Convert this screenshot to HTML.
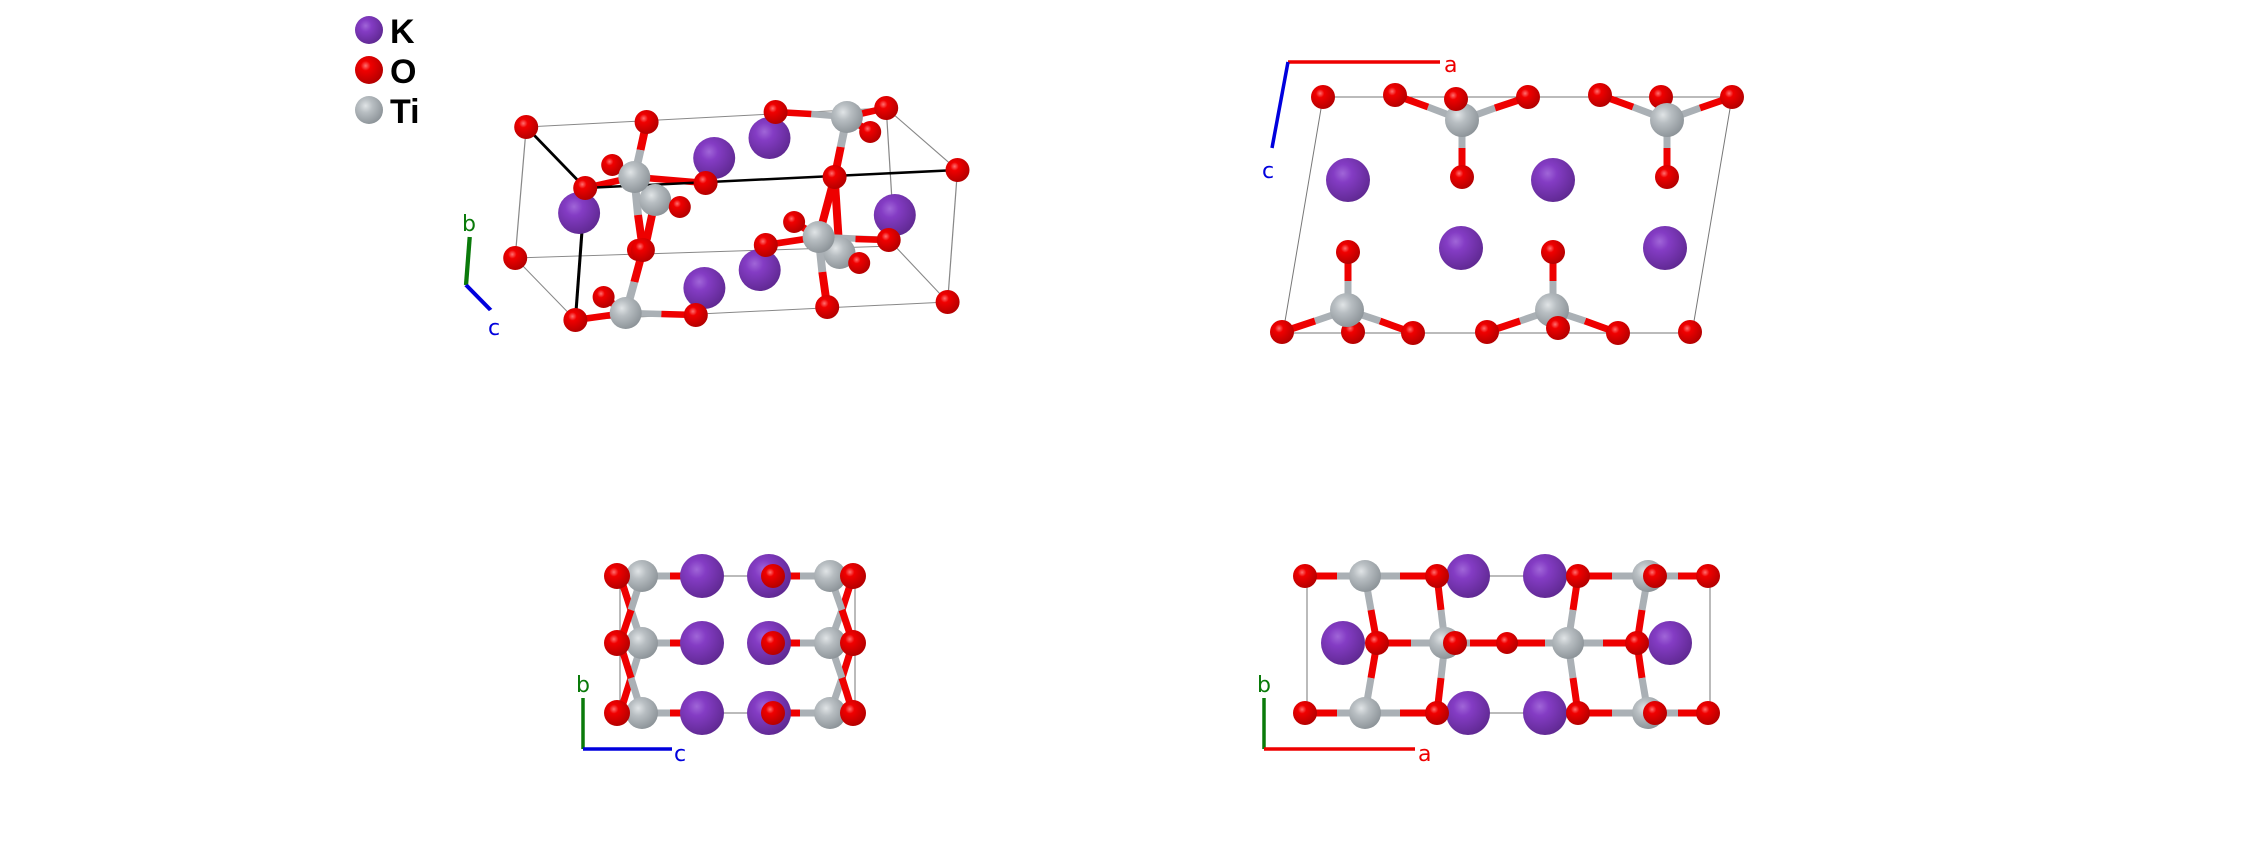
<!DOCTYPE html>
<html><head><meta charset="utf-8"><style>
html,body{margin:0;padding:0;background:#fff;}
svg{display:block}
</style></head><body>
<svg width="2244" height="860" viewBox="0 0 2244 860" xmlns="http://www.w3.org/2000/svg">
<defs>
<radialGradient id="gO" cx="0.38" cy="0.35" r="0.7"><stop offset="0" stop-color="#ff7070"/><stop offset="0.25" stop-color="#f00000"/><stop offset="1" stop-color="#b00000"/></radialGradient>
<radialGradient id="gK" cx="0.38" cy="0.35" r="0.7"><stop offset="0" stop-color="#a066d8"/><stop offset="0.3" stop-color="#843cc4"/><stop offset="1" stop-color="#5e2890"/></radialGradient>
<radialGradient id="gT" cx="0.38" cy="0.35" r="0.7"><stop offset="0" stop-color="#e0e4e6"/><stop offset="0.35" stop-color="#b8bec2"/><stop offset="1" stop-color="#8a9196"/></radialGradient>
</defs>

<!-- Legend -->
<circle cx="369" cy="30" r="14" fill="url(#gK)"/>
<circle cx="369" cy="70" r="14" fill="url(#gO)"/>
<circle cx="369" cy="110" r="14" fill="url(#gT)"/>
<g font-family="Liberation Sans, sans-serif" font-weight="bold" font-size="34" fill="#000">
<text x="390" y="43">K</text><text x="390" y="83">O</text><text x="390" y="123">Ti</text>
</g>

<!-- ===== Panel 1 ===== -->
<g transform="translate(525,0) scale(1.2286,1) translate(-491,0)">
<g stroke="#888" stroke-width="1" fill="none">
<polyline points="492,127 785,108 843,170"/>
<polyline points="492,127 483,258 792,246 835,302"/>
<line x1="785" y1="108" x2="792" y2="246"/>
<line x1="843" y1="170" x2="835" y2="302"/>
<line x1="835" y1="302" x2="532" y2="320"/>
<line x1="483" y1="258" x2="532" y2="320"/>
</g>
<g stroke-width="6.5">
<line x1="590" y1="122" x2="585" y2="150" stroke="#e00"/><line x1="585" y1="150" x2="580" y2="177" stroke="#aab0b5"/>
<line x1="580" y1="177" x2="540" y2="188" stroke="#e00"/>
<line x1="580" y1="177" x2="638" y2="183" stroke="#e00"/>
<line x1="580" y1="177" x2="562" y2="165" stroke="#aab0b5"/>
<line x1="580" y1="177" x2="583" y2="215" stroke="#aab0b5"/><line x1="583" y1="215" x2="587" y2="250" stroke="#e00"/>
<line x1="597" y1="200" x2="590" y2="240" stroke="#e00"/>
<line x1="587" y1="250" x2="580" y2="282" stroke="#e00"/><line x1="580" y1="282" x2="573" y2="313" stroke="#aab0b5"/>
<line x1="573" y1="313" x2="532" y2="320" stroke="#e00"/>
<line x1="573" y1="313" x2="602" y2="314" stroke="#aab0b5"/><line x1="602" y1="314" x2="630" y2="315" stroke="#e00"/>
<line x1="573" y1="313" x2="555" y2="297" stroke="#e00"/>
<line x1="753" y1="117" x2="724" y2="114" stroke="#aab0b5"/><line x1="724" y1="114" x2="695" y2="112" stroke="#e00"/>
<line x1="753" y1="117" x2="785" y2="108" stroke="#e00"/>
<line x1="753" y1="117" x2="772" y2="132" stroke="#e00"/>
<line x1="753" y1="117" x2="748" y2="147" stroke="#aab0b5"/><line x1="748" y1="147" x2="743" y2="177" stroke="#e00"/>
<line x1="743" y1="177" x2="730" y2="237" stroke="#e00"/>
<line x1="743" y1="177" x2="747" y2="253" stroke="#e00"/>
<line x1="730" y1="237" x2="687" y2="245" stroke="#e00"/>
<line x1="730" y1="237" x2="787" y2="240" stroke="#aab0b5"/>
<line x1="760" y1="239" x2="787" y2="240" stroke="#e00"/>
<line x1="730" y1="237" x2="710" y2="222" stroke="#e00"/>
<line x1="730" y1="237" x2="733" y2="272" stroke="#aab0b5"/><line x1="733" y1="272" x2="737" y2="307" stroke="#e00"/>
<line x1="747" y1="253" x2="763" y2="263" stroke="#e00"/>
</g>
<g stroke="#000" stroke-width="2.5">
<line x1="492" y1="127" x2="540" y2="188"/>
<line x1="540" y1="188" x2="843" y2="170"/>
<line x1="540" y1="188" x2="532" y2="320"/>
</g>
<line x1="446" y1="237" x2="443" y2="285" stroke="#0a7a0a" stroke-width="3.5"/>
<line x1="443" y1="285" x2="463" y2="310" stroke="#0000dd" stroke-width="3.5"/>
</g>
<g fill="url(#gK)">
<circle cx="769.5" cy="138" r="21"/>
<circle cx="714.2" cy="158" r="21"/>
<circle cx="579.1" cy="213" r="21"/>
<circle cx="894.8" cy="215" r="21"/>
<circle cx="759.7" cy="270" r="21"/>
<circle cx="704.4" cy="288" r="21"/>
</g>
<circle cx="655.2" cy="200" r="16" fill="url(#gT)"/>
<circle cx="839.5" cy="253" r="16" fill="url(#gT)"/>
<circle cx="612.2" cy="165" r="11" fill="url(#gO)"/>
<circle cx="679.8" cy="207" r="11" fill="url(#gO)"/>
<circle cx="634.3" cy="177" r="16" fill="url(#gT)"/>
<circle cx="846.9" cy="117" r="16" fill="url(#gT)"/>
<circle cx="818.6" cy="237" r="16" fill="url(#gT)"/>
<circle cx="625.7" cy="313" r="16" fill="url(#gT)"/>
<g fill="url(#gO)">
<circle cx="526.2" cy="127" r="12"/><circle cx="646.6" cy="122" r="12"/><circle cx="775.6" cy="112" r="12"/>
<circle cx="886.2" cy="108" r="12"/><circle cx="870.2" cy="132" r="11"/>
<circle cx="585.2" cy="188" r="12"/><circle cx="705.6" cy="183" r="12"/><circle cx="834.6" cy="177" r="12"/>
<circle cx="957.5" cy="170" r="12"/><circle cx="794.1" cy="222" r="11"/><circle cx="765.8" cy="245" r="12"/>
<circle cx="888.7" cy="240" r="12"/><circle cx="859.2" cy="263" r="11"/><circle cx="638" cy="250" r="11"/><circle cx="642.9" cy="250" r="12"/>
<circle cx="515.2" cy="258" r="12"/><circle cx="603.6" cy="297" r="11"/><circle cx="575.4" cy="320" r="12"/>
<circle cx="695.8" cy="315" r="12"/><circle cx="827.2" cy="307" r="12"/><circle cx="947.6" cy="302" r="12"/>
</g>
<g font-family="DejaVu Sans, sans-serif" font-size="22">
<text x="462" y="231" fill="#0a7a0a">b</text><text x="488" y="335" fill="#0000dd">c</text>
</g>

<!-- ===== Panel 2 ===== -->
<polygon points="1323,97 1732,97 1692,333 1283,333" fill="none" stroke="#777" stroke-width="1"/>
<g stroke-width="7">
<line x1="1462" y1="120" x2="1428" y2="107" stroke="#aab0b5"/><line x1="1428" y1="107" x2="1395" y2="95" stroke="#e00"/>
<line x1="1462" y1="120" x2="1495" y2="108" stroke="#aab0b5"/><line x1="1495" y1="108" x2="1528" y2="97" stroke="#e00"/>
<line x1="1462" y1="120" x2="1462" y2="148" stroke="#aab0b5"/><line x1="1462" y1="148" x2="1462" y2="177" stroke="#e00"/>
<line x1="1667" y1="120" x2="1633" y2="107" stroke="#aab0b5"/><line x1="1633" y1="107" x2="1600" y2="95" stroke="#e00"/>
<line x1="1667" y1="120" x2="1700" y2="108" stroke="#aab0b5"/><line x1="1700" y1="108" x2="1732" y2="97" stroke="#e00"/>
<line x1="1667" y1="120" x2="1667" y2="148" stroke="#aab0b5"/><line x1="1667" y1="148" x2="1667" y2="177" stroke="#e00"/>
<line x1="1347" y1="310" x2="1315" y2="321" stroke="#aab0b5"/><line x1="1315" y1="321" x2="1282" y2="332" stroke="#e00"/>
<line x1="1347" y1="310" x2="1380" y2="321" stroke="#aab0b5"/><line x1="1380" y1="321" x2="1413" y2="333" stroke="#e00"/>
<line x1="1348" y1="310" x2="1348" y2="281" stroke="#aab0b5"/><line x1="1348" y1="281" x2="1348" y2="252" stroke="#e00"/>
<line x1="1552" y1="310" x2="1520" y2="321" stroke="#aab0b5"/><line x1="1520" y1="321" x2="1487" y2="332" stroke="#e00"/>
<line x1="1552" y1="310" x2="1585" y2="321" stroke="#aab0b5"/><line x1="1585" y1="321" x2="1618" y2="333" stroke="#e00"/>
<line x1="1553" y1="310" x2="1553" y2="281" stroke="#aab0b5"/><line x1="1553" y1="281" x2="1553" y2="252" stroke="#e00"/>
</g>
<g fill="url(#gO)">
<circle cx="1661" cy="97" r="12"/><circle cx="1353" cy="332" r="12"/>
</g>
<circle cx="1462" cy="120" r="17" fill="url(#gT)"/><circle cx="1667" cy="120" r="17" fill="url(#gT)"/>
<circle cx="1347" cy="310" r="17" fill="url(#gT)"/><circle cx="1552" cy="310" r="17" fill="url(#gT)"/>
<g fill="url(#gK)">
<circle cx="1348" cy="180" r="22"/><circle cx="1553" cy="180" r="22"/><circle cx="1461" cy="248" r="22"/><circle cx="1665" cy="248" r="22"/>
</g>
<g fill="url(#gO)">
<circle cx="1323" cy="97" r="12"/><circle cx="1395" cy="95" r="12"/><circle cx="1456" cy="99" r="12"/>
<circle cx="1528" cy="97" r="12"/><circle cx="1600" cy="95" r="12"/><circle cx="1732" cy="97" r="12"/>
<circle cx="1462" cy="177" r="12"/><circle cx="1667" cy="177" r="12"/>
<circle cx="1348" cy="252" r="12"/><circle cx="1553" cy="252" r="12"/>
<circle cx="1282" cy="332" r="12"/><circle cx="1413" cy="333" r="12"/><circle cx="1487" cy="332" r="12"/>
<circle cx="1558" cy="328" r="12"/><circle cx="1618" cy="333" r="12"/><circle cx="1690" cy="332" r="12"/>
</g>
<line x1="1288" y1="62" x2="1440" y2="62" stroke="#e00" stroke-width="3.5"/>
<line x1="1288" y1="62" x2="1272" y2="148" stroke="#0000dd" stroke-width="3.5"/>
<g font-family="DejaVu Sans, sans-serif" font-size="22">
<text x="1444" y="72" fill="#e00">a</text><text x="1262" y="178" fill="#0000dd">c</text>
</g>

<!-- ===== Panel 3 ===== -->
<rect x="620" y="576" width="235" height="137" fill="none" stroke="#777" stroke-width="1"/>
<g stroke-width="7">
<line x1="642" y1="576" x2="680" y2="576" stroke="#aab0b5"/><line x1="670" y1="576" x2="700" y2="576" stroke="#e00"/>
<line x1="642" y1="643" x2="680" y2="643" stroke="#aab0b5"/><line x1="670" y1="643" x2="700" y2="643" stroke="#e00"/>
<line x1="642" y1="713" x2="680" y2="713" stroke="#aab0b5"/><line x1="670" y1="713" x2="700" y2="713" stroke="#e00"/>
<line x1="773" y1="576" x2="800" y2="576" stroke="#e00"/><line x1="800" y1="576" x2="830" y2="576" stroke="#aab0b5"/>
<line x1="773" y1="643" x2="800" y2="643" stroke="#e00"/><line x1="800" y1="643" x2="830" y2="643" stroke="#aab0b5"/>
<line x1="773" y1="713" x2="800" y2="713" stroke="#e00"/><line x1="800" y1="713" x2="830" y2="713" stroke="#aab0b5"/>
<line x1="620" y1="576" x2="631" y2="610" stroke="#e00"/><line x1="631" y1="610" x2="642" y2="643" stroke="#aab0b5"/>
<line x1="642" y1="643" x2="631" y2="678" stroke="#aab0b5"/><line x1="631" y1="678" x2="620" y2="713" stroke="#e00"/>
<line x1="642" y1="576" x2="631" y2="610" stroke="#aab0b5"/><line x1="631" y1="610" x2="620" y2="643" stroke="#e00"/>
<line x1="620" y1="643" x2="631" y2="678" stroke="#e00"/><line x1="631" y1="678" x2="642" y2="713" stroke="#aab0b5"/>
<line x1="853" y1="576" x2="842" y2="610" stroke="#e00"/><line x1="842" y1="610" x2="830" y2="643" stroke="#aab0b5"/>
<line x1="830" y1="576" x2="842" y2="610" stroke="#aab0b5"/><line x1="842" y1="610" x2="853" y2="643" stroke="#e00"/>
<line x1="853" y1="643" x2="842" y2="678" stroke="#e00"/><line x1="842" y1="678" x2="830" y2="713" stroke="#aab0b5"/>
<line x1="830" y1="643" x2="842" y2="678" stroke="#aab0b5"/><line x1="842" y1="678" x2="853" y2="713" stroke="#e00"/>
</g>
<g fill="url(#gT)"><circle cx="642" cy="576" r="16"/><circle cx="642" cy="643" r="16"/><circle cx="642" cy="713" r="16"/>
<circle cx="830" cy="576" r="16"/><circle cx="830" cy="643" r="16"/><circle cx="830" cy="713" r="16"/></g>
<g fill="url(#gK)"><circle cx="702" cy="576" r="22"/><circle cx="702" cy="643" r="22"/><circle cx="702" cy="713" r="22"/>
<circle cx="769" cy="576" r="22"/><circle cx="769" cy="643" r="22"/><circle cx="769" cy="713" r="22"/></g>
<g fill="url(#gO)"><circle cx="617" cy="576" r="13"/><circle cx="617" cy="643" r="13"/><circle cx="617" cy="713" r="13"/>
<circle cx="773" cy="576" r="12"/><circle cx="773" cy="643" r="12"/><circle cx="773" cy="713" r="12"/>
<circle cx="853" cy="576" r="13"/><circle cx="853" cy="643" r="13"/><circle cx="853" cy="713" r="13"/></g>
<line x1="583" y1="698" x2="583" y2="749" stroke="#0a7a0a" stroke-width="3.5"/>
<line x1="583" y1="749" x2="672" y2="749" stroke="#0000dd" stroke-width="3.5"/>
<g font-family="DejaVu Sans, sans-serif" font-size="22">
<text x="576" y="692" fill="#0a7a0a">b</text><text x="674" y="761" fill="#0000dd">c</text>
</g>

<!-- ===== Panel 4 ===== -->
<rect x="1307" y="576" width="403" height="137" fill="none" stroke="#777" stroke-width="1"/>
<g stroke-width="7">
<line x1="1305" y1="576" x2="1337" y2="576" stroke="#e00"/><line x1="1337" y1="576" x2="1365" y2="576" stroke="#aab0b5"/>
<line x1="1365" y1="576" x2="1400" y2="576" stroke="#aab0b5"/><line x1="1400" y1="576" x2="1437" y2="576" stroke="#e00"/>
<line x1="1578" y1="576" x2="1612" y2="576" stroke="#e00"/><line x1="1612" y1="576" x2="1648" y2="576" stroke="#aab0b5"/>
<line x1="1648" y1="576" x2="1678" y2="576" stroke="#aab0b5"/><line x1="1678" y1="576" x2="1708" y2="576" stroke="#e00"/>
<line x1="1305" y1="713" x2="1337" y2="713" stroke="#e00"/><line x1="1337" y1="713" x2="1365" y2="713" stroke="#aab0b5"/>
<line x1="1365" y1="713" x2="1400" y2="713" stroke="#aab0b5"/><line x1="1400" y1="713" x2="1437" y2="713" stroke="#e00"/>
<line x1="1578" y1="713" x2="1612" y2="713" stroke="#e00"/><line x1="1612" y1="713" x2="1648" y2="713" stroke="#aab0b5"/>
<line x1="1648" y1="713" x2="1678" y2="713" stroke="#aab0b5"/><line x1="1678" y1="713" x2="1708" y2="713" stroke="#e00"/>
<line x1="1377" y1="643" x2="1411" y2="643" stroke="#e00"/><line x1="1411" y1="643" x2="1445" y2="643" stroke="#aab0b5"/>
<line x1="1445" y1="643" x2="1490" y2="643" stroke="#aab0b5"/><line x1="1470" y1="643" x2="1545" y2="643" stroke="#e00"/>
<line x1="1545" y1="643" x2="1568" y2="643" stroke="#aab0b5"/>
<line x1="1568" y1="643" x2="1603" y2="643" stroke="#aab0b5"/><line x1="1603" y1="643" x2="1637" y2="643" stroke="#e00"/>
<line x1="1365" y1="576" x2="1371" y2="610" stroke="#aab0b5"/><line x1="1371" y1="610" x2="1377" y2="643" stroke="#e00"/>
<line x1="1377" y1="643" x2="1371" y2="678" stroke="#e00"/><line x1="1371" y1="678" x2="1365" y2="713" stroke="#aab0b5"/>
<line x1="1437" y1="576" x2="1441" y2="610" stroke="#e00"/><line x1="1441" y1="610" x2="1445" y2="643" stroke="#aab0b5"/>
<line x1="1445" y1="643" x2="1441" y2="678" stroke="#aab0b5"/><line x1="1441" y1="678" x2="1437" y2="713" stroke="#e00"/>
<line x1="1578" y1="576" x2="1573" y2="610" stroke="#e00"/><line x1="1573" y1="610" x2="1568" y2="643" stroke="#aab0b5"/>
<line x1="1568" y1="643" x2="1573" y2="678" stroke="#aab0b5"/><line x1="1573" y1="678" x2="1578" y2="713" stroke="#e00"/>
<line x1="1648" y1="576" x2="1642" y2="610" stroke="#aab0b5"/><line x1="1642" y1="610" x2="1637" y2="643" stroke="#e00"/>
<line x1="1637" y1="643" x2="1642" y2="678" stroke="#e00"/><line x1="1642" y1="678" x2="1648" y2="713" stroke="#aab0b5"/>
</g>
<g fill="url(#gT)"><circle cx="1365" cy="576" r="16"/><circle cx="1648" cy="576" r="16"/><circle cx="1365" cy="713" r="16"/><circle cx="1648" cy="713" r="16"/>
<circle cx="1445" cy="643" r="16"/><circle cx="1568" cy="643" r="16"/></g>
<g fill="url(#gK)"><circle cx="1468" cy="576" r="22"/><circle cx="1545" cy="576" r="22"/><circle cx="1468" cy="713" r="22"/><circle cx="1545" cy="713" r="22"/>
<circle cx="1343" cy="643" r="22"/><circle cx="1670" cy="643" r="22"/></g>
<g fill="url(#gO)">
<circle cx="1305" cy="576" r="12"/><circle cx="1437" cy="576" r="12"/><circle cx="1578" cy="576" r="12"/><circle cx="1655" cy="576" r="12"/><circle cx="1708" cy="576" r="12"/>
<circle cx="1305" cy="713" r="12"/><circle cx="1437" cy="713" r="12"/><circle cx="1578" cy="713" r="12"/><circle cx="1655" cy="713" r="12"/><circle cx="1708" cy="713" r="12"/>
<circle cx="1377" cy="643" r="12"/><circle cx="1455" cy="643" r="12"/><circle cx="1507" cy="643" r="11"/><circle cx="1637" cy="643" r="12"/>
</g>
<line x1="1264" y1="698" x2="1264" y2="749" stroke="#0a7a0a" stroke-width="3.5"/>
<line x1="1264" y1="749" x2="1415" y2="749" stroke="#e00" stroke-width="3.5"/>
<g font-family="DejaVu Sans, sans-serif" font-size="22">
<text x="1257" y="692" fill="#0a7a0a">b</text><text x="1418" y="761" fill="#e00">a</text>
</g>
</svg>
</body></html>
